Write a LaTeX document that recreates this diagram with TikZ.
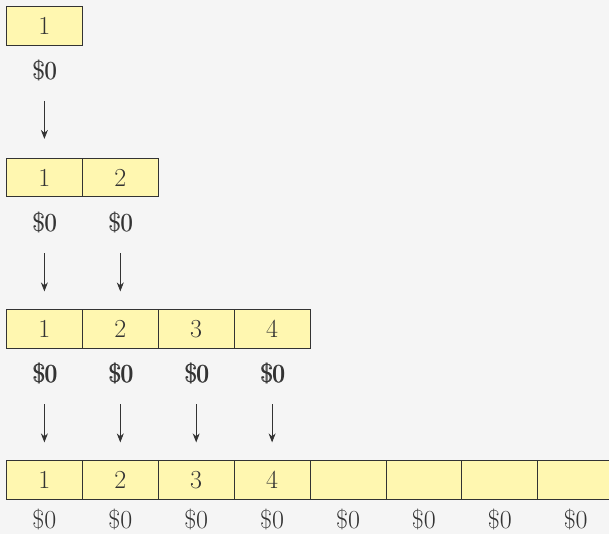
\documentclass[tikz,border=0pt]{standalone}
\usetikzlibrary{arrows.meta}
\definecolor{bg}{HTML}{F5F5F5}
\definecolor{cellfill}{HTML}{FFF7B0}
\definecolor{ink}{HTML}{333333}
\begin{document}
\begin{tikzpicture}[x=1pt,y=-1pt,
  cell/.style={draw=ink,fill=cellfill,line width=0.9pt,minimum width=75.9pt,minimum height=38.5pt,inner sep=0pt,anchor=north west,text=ink,font=\fontsize{26}{30}\selectfont},
  cost/.style={text=ink,inner sep=0pt,font=\fontsize{26}{30}\selectfont},
  arr/.style={draw=ink,line width=0.8pt,-{Stealth[length=9pt,width=7pt]}}]
\fill[bg] (0,0) rectangle (609,534);
\useasboundingbox (0,0) rectangle (609,534);
% row 1
\node[cell] (a1) at (6,6.5) {1};
% row 2
\foreach \i/\t in {1/1,2/2} \node[cell] (b\i) at ({6+75.9*(\i-1)},158) {\t};
% row 3
\foreach \i/\t in {1/1,2/2,3/3,4/4} \node[cell] (c\i) at ({6+75.9*(\i-1)},309) {\t};
% row 4
\foreach \i/\t in {1/1,2/2,3/3,4/4,5/,6/,7/,8/} \node[cell] (d\i) at ({6+75.9*(\i-1)},460) {\t};
% costs
\node[cost] (la1) at ([yshift=-25pt]a1.south) {\$0};
\node[cost] at ([xshift=0.7pt]la1.center) {\$0};
\foreach \i in {1,2}{
  \node[cost] (lb\i) at ([yshift=-25pt]b\i.south) {\$0};
  \node[cost] at ([xshift=0.7pt]lb\i.center) {\$0};}
\foreach \i in {1,2,3,4}{
  \node[cost] (lc\i) at ([yshift=-25pt]c\i.south) {\$0};
  \node[cost] at ([xshift=0.6pt]lc\i.center) {\$0};
  \node[cost] at ([xshift=1.2pt]lc\i.center) {\$0};}
\foreach \i in {1,...,8}
  \node[cost] (ld\i) at ([yshift=-20.5pt]d\i.south) {\$0};
% arrows
\coordinate (sa1) at ([yshift=-55pt]a1.south);
\coordinate (ea1) at ([yshift=-93pt]a1.south);
\draw[arr] (sa1) -- (ea1);
\foreach \i in {1,2}{
  \coordinate (sb\i) at ([yshift=-56pt]b\i.south);
  \coordinate (eb\i) at ([yshift=-94pt]b\i.south);
  \draw[arr] (sb\i) -- (eb\i);}
\foreach \i in {1,2,3,4}{
  \coordinate (sc\i) at ([yshift=-56pt]c\i.south);
  \coordinate (ec\i) at ([yshift=-94pt]c\i.south);
  \draw[arr] (sc\i) -- (ec\i);}
\end{tikzpicture}
\end{document}
